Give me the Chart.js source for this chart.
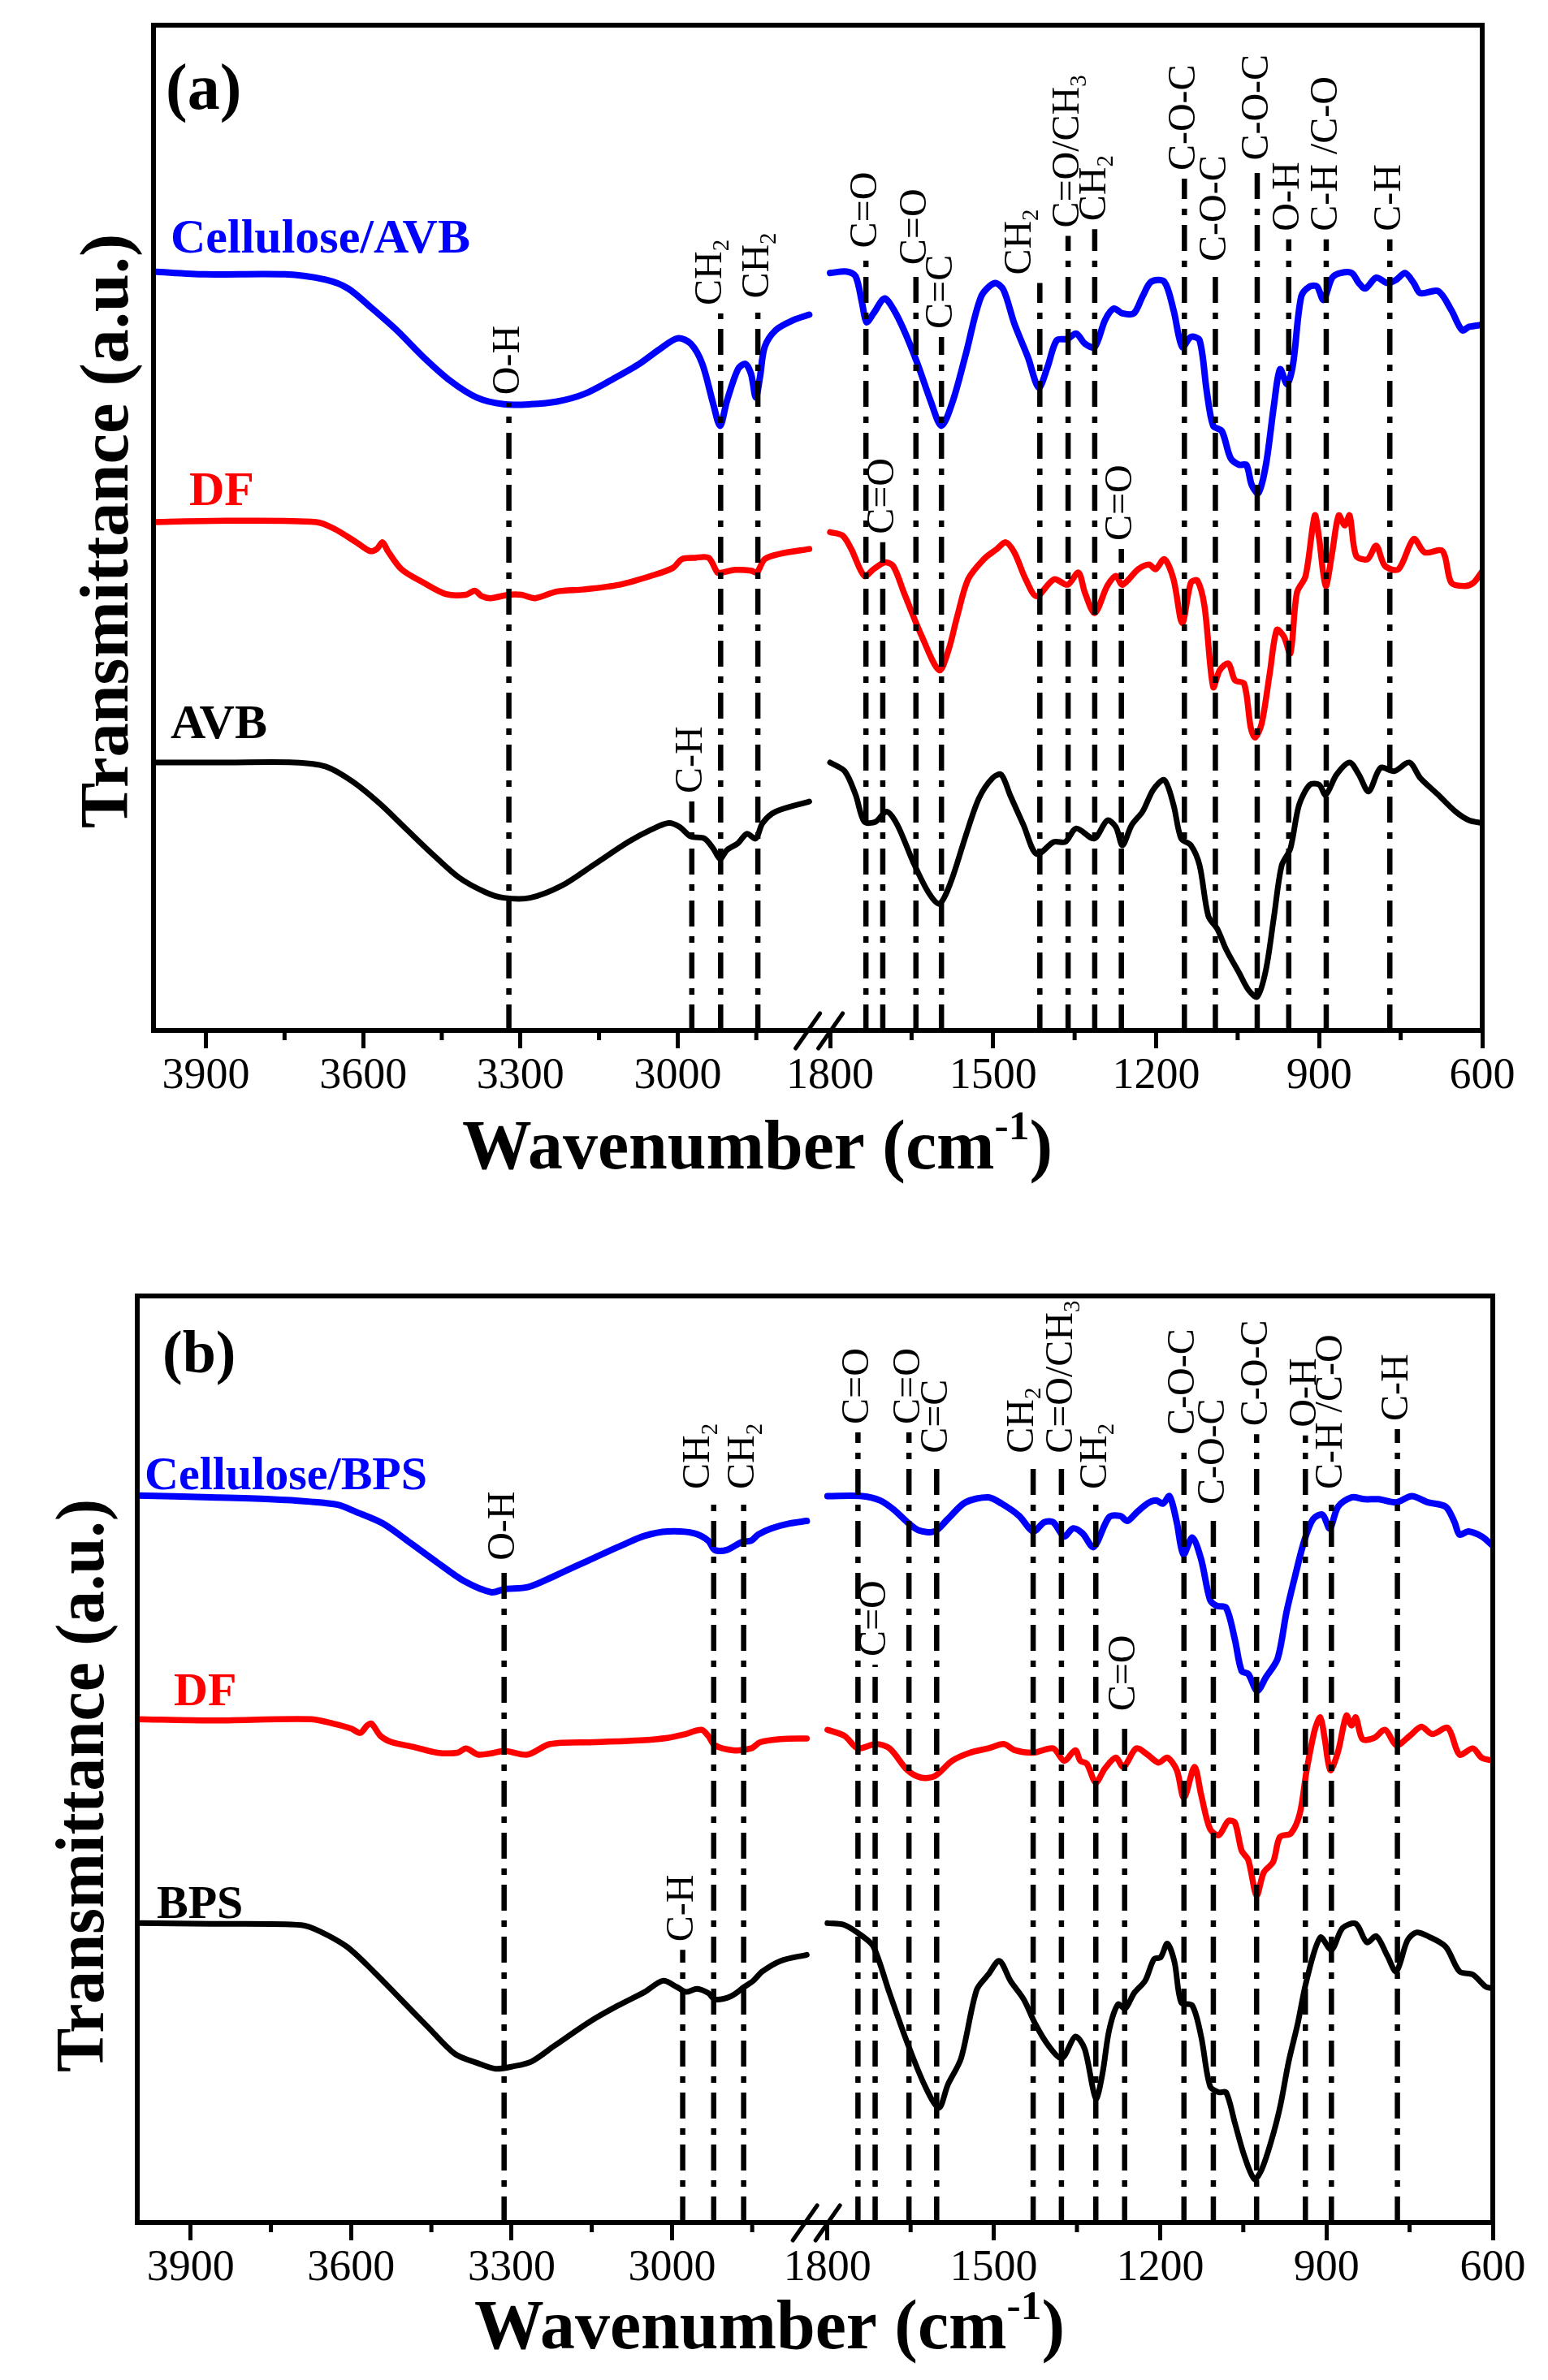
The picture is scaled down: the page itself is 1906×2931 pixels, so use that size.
<!DOCTYPE html>
<html><head><meta charset="utf-8">
<script src="https://cdn.jsdelivr.net/npm/chart.js@4.4.0/dist/chart.umd.min.js"></script>
<style>
html,body{margin:0;padding:0;background:#fff;}
#wrap{position:relative;width:1906px;height:2931px;background:#fff;}
canvas{position:absolute;left:0;}
</style></head><body>
<div id="wrap">
<canvas id="ca" width="1906" height="1460" style="top:0;width:1906px;height:1460px"></canvas>
<canvas id="cb" width="1906" height="1471" style="top:1460px;width:1906px;height:1471px"></canvas>
</div>
<script>
// ---------------- axis ticks ----------------
const leftMajorTicks = [3900, 3600, 3300, 3000];
const leftMinorTicks = [3750, 3450, 3150, 2850];
const rightMajorTicks = [1800, 1500, 1200, 900, 600];
const rightMinorTicks = [1650, 1350, 1050, 750];

// ---------------- panel (a) spectra ----------------
const aCellLeftX = [4000,3902,3749,3672,3629,3587,3536,3485,3434,3383,3332,3281,3230,3179,3129,3077,3034,3000,2975,2953,2932,2919,2906,2885,2871,2860,2851,2843,2834,2813,2779,2749];
const aCellLeftY = [1127,1123,1123,1115,1102,1075,1040,1000,965,940,930,930,934,945,965,988,1012,1028,1020,990,930,898,935,982,990,975,940,970,1015,1040,1055,1063];
const aDFLeftX = [4000,3859,3689,3655,3613,3587,3574,3563,3553,3527,3485,3442,3404,3387,3374,3357,3323,3298,3272,3230,3179,3111,3051,3009,2992,2966,2941,2924,2916,2890,2860,2849,2834,2804,2749];
const aDFLeftY = [755,757,755,745,725,712,715,725,712,685,665,648,647,653,645,642,647,647,642,652,655,662,675,687,700,702,702,680,680,684,683,680,700,708,715];
const aRawLeftX = [4000,3859,3732,3672,3621,3570,3519,3468,3417,3366,3332,3281,3221,3162,3094,3051,3017,2996,2975,2949,2932,2919,2906,2885,2868,2851,2838,2813,2749];
const aRawLeftY = [398,398,398,392,370,338,300,262,227,205,197,197,215,245,280,298,308,302,288,285,270,255,268,278,292,285,308,325,340];

const aCellRightX = [1800,1769,1753,1741,1733,1720,1700,1684,1664,1639,1615,1595,1574,1550,1522,1497,1481,1461,1436,1416,1400,1383,1363,1347,1331,1313,1294,1278,1262,1241,1225,1209,1185,1168,1152,1136,1120,1107,1095,1079,1063,1047,1034,1024,1012,998,983,972,959,948,933,917,904,892,876,860,840,827,815,795,774,758,742,726,714,681,657,637,624,600];
const aCellRightY = [1125,1127,1120,1080,1052,1065,1087,1072,1040,990,935,898,935,1005,1090,1110,1100,1050,1000,955,985,1025,1027,1035,1020,1015,1055,1072,1065,1065,1090,1112,1112,1070,1015,1030,1025,950,898,890,850,840,840,810,798,840,930,982,960,990,1090,1105,1105,1085,1118,1125,1125,1110,1102,1118,1110,1115,1125,1110,1095,1098,1070,1040,1045,1048];
const aDFRightX = [1800,1777,1761,1737,1720,1700,1684,1664,1631,1599,1582,1566,1546,1517,1493,1477,1461,1440,1420,1388,1363,1343,1331,1313,1290,1274,1262,1233,1213,1201,1185,1168,1152,1136,1124,1111,1095,1083,1067,1055,1038,1026,1018,1006,991,978,965,953,941,925,908,900,888,876,864,853,844,832,811,795,779,754,726,706,673,657,632,616,600];
const aDFRightY = [740,735,715,675,685,695,690,650,585,535,565,615,670,700,715,725,710,670,645,670,662,680,650,620,660,675,662,685,692,685,700,670,605,665,668,630,510,535,545,520,515,450,435,455,530,595,585,560,650,675,765,730,660,710,765,750,765,705,700,720,690,685,730,710,712,665,660,665,682];
const aRawRightX = [1800,1773,1753,1737,1716,1696,1676,1647,1619,1599,1578,1550,1526,1501,1485,1469,1444,1420,1388,1367,1347,1314,1290,1274,1262,1245,1225,1205,1185,1168,1154,1136,1120,1104,1087,1071,1047,1030,1014,998,983,969,953,937,917,900,888,868,844,827,809,787,762,734,714,681,649,624,600];
const aRawRightY = [398,385,350,310,310,325,305,250,205,188,220,290,345,375,380,350,305,262,280,280,300,285,312,302,275,305,325,358,372,335,285,275,245,170,150,120,85,60,50,90,170,245,270,335,365,365,350,380,398,380,355,390,385,398,375,350,325,312,308];

// panel (a) band assignments
const aBandLeftWn = [3322, 2973, 2918, 2847];
const aBandLeftTop = [932, 340, 1065, 1075];
const aBandLeftLabel = ['O-H', 'C-H', 'CH_2', 'CH_2'];
const aBandRightWn = [1734, 1703, 1642, 1595, 1414, 1362, 1313, 1264, 1148, 1091, 1014, 956, 887, 770];
const aBandRightTop = [1150, 725, 1125, 1030, 1110, 1180, 1190, 715, 1265, 1130, 1280, 1175, 1175, 1175];
const aBandRightLabel = ['C=O', 'C=O', 'C=O', 'C=C', 'CH_2', 'C=O/CH_3', 'CH_2', 'C=O', 'C-O-C', 'C-O-C', 'C-O-C', 'O-H', 'C-H /C-O', 'C-H'];

// ---------------- panel (b) spectra ----------------
const bCellLeftX = [4000,3862,3752,3676,3625,3592,3541,3490,3439,3389,3338,3313,3270,3220,3152,3093,3051,3008,2958,2932,2920,2898,2869,2852,2839,2814,2780,2748];
const bCellLeftY = [1173,1170,1167,1163,1158,1147,1128,1097,1065,1035,1017,1022,1025,1043,1070,1093,1108,1115,1112,1100,1085,1085,1098,1100,1110,1120,1128,1132];
const bDFLeftX = [4000,3862,3676,3634,3600,3583,3570,3562,3545,3524,3482,3439,3401,3385,3363,3338,3313,3270,3228,3144,3059,3008,2975,2945,2932,2920,2886,2852,2835,2797,2748];
const bDFLeftY = [812,810,812,805,797,790,802,805,785,775,767,758,758,765,755,757,761,755,772,775,778,782,788,795,785,770,762,765,775,780,781];
const bRawLeftX = [4000,3862,3693,3659,3608,3558,3507,3456,3406,3363,3330,3296,3262,3220,3152,3101,3051,3017,2991,2974,2953,2932,2920,2890,2865,2848,2831,2797,2748];
const bRawLeftY = [483,482,480,470,445,405,360,315,272,257,248,252,260,285,325,350,372,390,380,372,377,370,360,365,380,390,405,422,432];

const bCellRightX = [1800,1737,1705,1680,1656,1636,1607,1583,1551,1510,1486,1454,1429,1409,1393,1373,1357,1340,1320,1292,1272,1259,1243,1223,1207,1195,1183,1170,1158,1142,1126,1110,1098,1081,1065,1053,1041,1025,1009,988,972,956,940,924,907,894,879,855,831,806,774,746,717,685,669,660,644,620,600];
const bCellRightY = [1172,1172,1165,1150,1130,1117,1115,1135,1162,1170,1160,1140,1115,1130,1130,1107,1120,1112,1090,1138,1140,1132,1145,1160,1165,1160,1172,1130,1078,1105,1070,1005,995,992,940,890,885,858,880,910,985,1045,1100,1135,1142,1120,1155,1170,1167,1167,1162,1172,1162,1155,1130,1110,1115,1107,1092];
const bDFRightX = [1800,1769,1745,1713,1688,1656,1632,1607,1575,1543,1510,1482,1462,1429,1393,1373,1353,1344,1332,1316,1300,1280,1266,1243,1223,1203,1187,1170,1157,1138,1126,1110,1094,1077,1065,1053,1041,1026,1013,996,984,964,948,936,921,911,903,893,879,864,855,847,835,814,794,774,750,729,709,681,660,636,620,600];
const bDFRightY = [795,785,765,772,765,730,718,720,745,758,765,772,762,758,765,745,762,745,740,710,732,750,735,765,755,742,750,730,685,735,690,635,625,648,645,600,585,528,565,582,622,628,660,728,795,815,780,730,760,818,802,815,780,782,795,770,785,800,788,798,755,765,750,745];
const bRawRightX = [1800,1769,1737,1717,1688,1656,1624,1599,1583,1559,1531,1510,1490,1470,1446,1425,1401,1377,1353,1336,1316,1304,1292,1276,1263,1247,1227,1211,1199,1187,1174,1162,1142,1126,1110,1094,1081,1065,1049,1030,1017,1000,984,968,952,936,911,891,871,847,827,810,790,774,754,738,717,685,660,636,612,600];
const bRawRightY = [483,480,462,445,370,290,220,185,222,265,375,400,422,390,360,320,285,265,300,280,200,240,310,352,345,370,390,425,428,450,420,355,350,300,220,210,210,160,110,70,85,130,185,260,320,390,460,440,475,482,452,462,430,405,455,468,462,445,405,400,380,378];

const bBandLeftWn = [3314, 2980, 2922, 2866];
const bBandLeftTop = [1055, 440, 1170, 1170];
const bBandLeftLabel = ['O-H', 'C-H', 'CH_2', 'CH_2'];
const bBandRightWn = [1745, 1714, 1653, 1603, 1429, 1378, 1316, 1264, 1157, 1104, 1026, 938, 891, 772];
const bBandRightTop = [1275, 900, 1275, 1228, 1228, 1228, 1170, 812, 1258, 1145, 1272, 1270, 1170, 1280];
const bBandRightLabel = ['C=O', 'C=O', 'C=O', 'C=C', 'CH_2', 'C=O/CH_3', 'CH_2', 'C=O', 'C-O-C', 'C-O-C', 'C-O-C', 'O-H', 'C-H /C-O', 'C-H'];

// series names
const aSeriesNames = ['Cellulose/AVB', 'DF', 'AVB'];
const bSeriesNames = ['Cellulose/BPS', 'DF', 'BPS'];

// ---------------- rendering helpers ----------------
const SERIF = "'Liberation Serif', 'Times New Roman', Times, serif";
const BLUE = '#0000ff', RED = '#ff0000', BLACK = '#000000';

function parseSub(label) {
  const segs = [];
  let i = 0, cur = '';
  while (i < label.length) {
    if (label[i] === '_' && i + 1 < label.length) {
      if (cur) segs.push({t: cur});
      segs.push({t: label[i + 1], sub: true});
      cur = ''; i += 2;
    } else { cur += label[i]; i++; }
  }
  if (cur) segs.push({t: cur});
  return segs;
}

function makeChart(canvasId, P) {
  const el = document.getElementById(canvasId);
  const H = el.height;
  const axisH = H - P.area.bottom;

  const datasets = P.curves.map(c => ({
    data: c.x.map((x, i) => ({x: x, y: c.y[i]})),
    xAxisID: c.axis, yAxisID: 'y',
    borderColor: c.color, borderWidth: c.width,
    pointRadius: 0, tension: 0.3, fill: false,
    borderJoinStyle: 'round', borderCapStyle: 'round'
  }));

  const xAxis = (min, max, majors, weight) => ({
    type: 'linear', position: 'bottom', stack: 'wn', stackWeight: weight,
    reverse: true, min: min, max: max,
    afterBuildTicks: s => { s.ticks = majors.map(v => ({value: v})); },
    afterFit: s => { s.height = axisH; },
    grid: {display: true, drawOnChartArea: false, drawTicks: true, tickLength: 22,
           tickWidth: 5, lineWidth: 5, color: '#000', tickColor: '#000'},
    border: {display: false},
    ticks: {font: {family: SERIF, size: 54, weight: 'normal'}, color: '#000', padding: 2,
            maxRotation: 0, minRotation: 0, autoSkip: false, callback: v => String(v)}
  });

  const decoPlugin = {
    id: 'deco' + canvasId,
    afterDatasetsDraw(chart) {
      const ctx = chart.ctx;
      const ca = chart.chartArea;
      const ys = chart.scales.y;
      ctx.save();
      // band assignment lines + labels
      P.bands.forEach(g => {
        const xs = chart.scales[g.axis];
        g.wn.forEach((w, i) => {
          const px = xs.getPixelForValue(w);
          const py = ys.getPixelForValue(g.top[i]);
          ctx.save();
          ctx.beginPath();
          ctx.setLineDash([32, 12, 8, 12]);
          ctx.lineWidth = 6.5;
          ctx.strokeStyle = '#000';
          ctx.moveTo(px, ca.bottom);
          ctx.lineTo(px, py);
          ctx.stroke();
          ctx.setLineDash([]);
          const size = 48;
          const segs = parseSub(g.label[i]);
          const nudge = (g.nudge && g.nudge[i]) || 0;
          ctx.translate(px + nudge, py - 10);
          ctx.rotate(-Math.PI / 2);
          ctx.fillStyle = '#000';
          ctx.textBaseline = 'middle';
          ctx.textAlign = 'left';
          let x = 0;
          segs.forEach(s => {
            const fs = s.sub ? size * 0.6 : size;
            ctx.font = `normal ${fs}px ${SERIF}`;
            ctx.fillText(s.t, x, s.sub ? size * 0.3 : 0);
            x += ctx.measureText(s.t).width;
          });
          ctx.restore();
        });
      });
      // frame
      ctx.lineWidth = 6;
      ctx.strokeStyle = '#000';
      ctx.strokeRect(ca.left, ca.top, ca.right - ca.left, ca.bottom - ca.top);
      // minor ticks
      ctx.lineWidth = 5;
      [['xL', leftMinorTicks], ['xR', rightMinorTicks]].forEach(([id, vals]) => {
        const xs = chart.scales[id];
        vals.forEach(v => {
          const px = xs.getPixelForValue(v);
          ctx.beginPath();
          ctx.moveTo(px, ca.bottom);
          ctx.lineTo(px, ca.bottom + 12);
          ctx.stroke();
        });
      });
      // axis break mark
      const bx = chart.scales.xL.right;
      ctx.lineWidth = 5;
      ctx.lineCap = 'round';
      [-14, 14].forEach(dx => {
        ctx.beginPath();
        ctx.moveTo(bx + dx - 15, ca.bottom + 22);
        ctx.lineTo(bx + dx + 15, ca.bottom - 21);
        ctx.stroke();
      });
      ctx.lineCap = 'butt';

      // panel letter
      ctx.fillStyle = '#000';
      ctx.textBaseline = 'alphabetic';
      ctx.textAlign = 'left';
      ctx.font = `bold ${P.letter.size}px ${SERIF}`;
      ctx.fillText(P.letter.text, P.letter.x, P.letter.y);
      // series names
      P.names.forEach(n => {
        ctx.fillStyle = n.color;
        ctx.font = `bold ${n.size}px ${SERIF}`;
        ctx.fillText(n.text, n.x, n.y);
      });
      // x title with superscript
      ctx.fillStyle = '#000';
      const xt = P.xTitle;
      const tsegs = [{t: 'Wavenumber (cm', k: 1, rise: 0}, {t: '-1', k: 0.6, rise: 0.42}, {t: ')', k: 1, rise: 0}];
      let tw = 0;
      tsegs.forEach(s => { ctx.font = `bold ${xt.size * s.k}px ${SERIF}`; tw += ctx.measureText(s.t).width; });
      ctx.save();
      ctx.translate(xt.x, xt.y);
      ctx.scale(xt.width / tw, 1);
      let cx = 0;
      tsegs.forEach(s => {
        ctx.font = `bold ${xt.size * s.k}px ${SERIF}`;
        ctx.fillText(s.t, cx, -s.rise * xt.size);
        cx += ctx.measureText(s.t).width;
      });
      ctx.restore();
      // y title
      const yt = P.yTitle;
      ctx.save();
      ctx.font = `bold ${yt.size}px ${SERIF}`;
      const yw = ctx.measureText(yt.text).width;
      ctx.translate(yt.x, yt.y);
      ctx.rotate(-Math.PI / 2);
      ctx.scale(yt.width / yw, 1);
      ctx.textAlign = 'center';
      ctx.fillText(yt.text, 0, 0);
      ctx.restore();
      ctx.restore();
    }
  };

  return new Chart(el, {
    type: 'line',
    data: {datasets: datasets},
    options: {
      responsive: false, animation: false, devicePixelRatio: 1,
      layout: {padding: {left: P.area.left, right: el.width - P.area.right, top: P.area.top, bottom: 0}},
      plugins: {legend: {display: false}, tooltip: {enabled: false}},
      scales: {
        xL: xAxis(2730, 4000, leftMajorTicks, 1.0),
        xR: xAxis(600, 1820, rightMajorTicks, 0.996),
        y: {display: false, min: 0, max: P.yMax}
      }
    },
    plugins: [decoPlugin]
  });
}

makeChart('ca', {
  area: {left: 189, right: 1825, top: 31, bottom: 1269},
  yMax: 1493,
  curves: [
    {x: aCellLeftX, y: aCellLeftY, axis: 'xL', color: BLUE, width: 8},
    {x: aDFLeftX, y: aDFLeftY, axis: 'xL', color: RED, width: 7.5},
    {x: aRawLeftX, y: aRawLeftY, axis: 'xL', color: BLACK, width: 7},
    {x: aCellRightX, y: aCellRightY, axis: 'xR', color: BLUE, width: 8},
    {x: aDFRightX, y: aDFRightY, axis: 'xR', color: RED, width: 7.5},
    {x: aRawRightX, y: aRawRightY, axis: 'xR', color: BLACK, width: 7}
  ],
  bands: [
    {axis: 'xL', wn: aBandLeftWn, top: aBandLeftTop, label: aBandLeftLabel, nudge: {2: -12}},
    {axis: 'xR', wn: aBandRightWn, top: aBandRightTop, label: aBandRightLabel, nudge: {4: -24}}
  ],
  letter: {text: '(a)', x: 204, y: 134, size: 80},
  names: [
    {text: aSeriesNames[0], x: 210, y: 311, size: 60, color: BLUE},
    {text: aSeriesNames[1], x: 233, y: 622, size: 60, color: RED},
    {text: aSeriesNames[2], x: 210, y: 909, size: 60, color: BLACK}
  ],
  xTitle: {x: 569, y: 1439, size: 86, width: 727},
  yTitle: {text: 'Transmittance (a.u.)', x: 157, y: 654, size: 84, width: 732}
});

makeChart('cb', {
  area: {left: 169, right: 1838, top: 136, bottom: 1277},
  yMax: 1495,
  curves: [
    {x: bCellLeftX, y: bCellLeftY, axis: 'xL', color: BLUE, width: 8},
    {x: bDFLeftX, y: bDFLeftY, axis: 'xL', color: RED, width: 7.5},
    {x: bRawLeftX, y: bRawLeftY, axis: 'xL', color: BLACK, width: 7},
    {x: bCellRightX, y: bCellRightY, axis: 'xR', color: BLUE, width: 8},
    {x: bDFRightX, y: bDFRightY, axis: 'xR', color: RED, width: 7.5},
    {x: bRawRightX, y: bRawRightY, axis: 'xR', color: BLACK, width: 7}
  ],
  bands: [
    {axis: 'xL', wn: bBandLeftWn, top: bBandLeftTop, label: bBandLeftLabel, nudge: {2: -18}},
    {axis: 'xR', wn: bBandRightWn, top: bBandRightTop, label: bBandRightLabel, nudge: {4: -13}}
  ],
  letter: {text: '(b)', x: 200, y: 230, size: 74},
  names: [
    {text: bSeriesNames[0], x: 178, y: 374, size: 58, color: BLUE},
    {text: bSeriesNames[1], x: 214, y: 640, size: 58, color: RED},
    {text: bSeriesNames[2], x: 193, y: 902, size: 58, color: BLACK}
  ],
  xTitle: {x: 584, y: 1432, size: 86, width: 727},
  yTitle: {text: 'Transmittance (a.u.)', x: 127, y: 739, size: 84, width: 706}
});
</script>
</body></html>
